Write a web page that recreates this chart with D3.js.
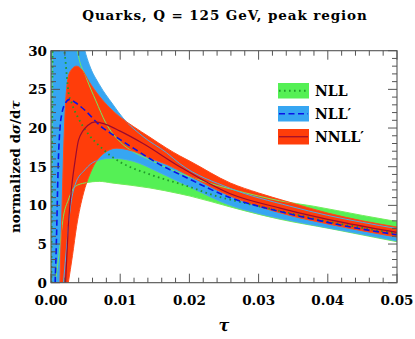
<!DOCTYPE html>
<html lang="en">
<head>
<meta charset="UTF-8">
<title>Quarks, Q = 125 GeV, peak region</title>
<script src="https://cdn.jsdelivr.net/npm/d3@7"></script>
<style>
  body { margin: 0; background: #fff; }
  svg { display: block; }
  text { font-family: 'DejaVu Serif', serif; font-weight: bold; fill: #000; }
</style>
</head>
<body>
<svg width="415" height="339"></svg>
<script>
// ---- data (tau, value) ----
const xTicks = [0, 0.01, 0.02, 0.03, 0.04, 0.05];
const yTicks = [0, 5, 10, 15, 20, 25, 30];

// NLL (green band, dotted central)
const nllMid = [[0.00005,0],[0.00015,15],[0.0003,36],[0.001,42],[0.0017,32],[0.0021,28.6],[0.0025,24.8],[0.003,23.2],[0.004,21.2],[0.0055,19.1],[0.0071,17.6],[0.0085,16.5],[0.01,15.6],[0.0143,14.0],[0.02,12.4],[0.0235,11.3],[0.028,10.3],[0.033,9.3],[0.04,7.9],[0.045,7.1],[0.05,6.4]];
const nllHi = [[0.00005,0],[0.0002,32],[0.001,45],[0.003,36],[0.00385,29.9],[0.0051,26.5],[0.0065,23.5],[0.0079,20.7],[0.01,18.2],[0.0114,17.2],[0.014,16.0],[0.018,14.4],[0.022,13.1],[0.026,12.1],[0.03,11.2],[0.033,10.6],[0.0379,9.9],[0.045,8.7],[0.05,7.9]];
const nllLo = [[0.0006,0],[0.00107,3.0],[0.0018,8.6],[0.0025,10.7],[0.0035,12.45],[0.0049,12.9],[0.007,13.1],[0.0088,12.9],[0.0143,12.25],[0.0186,11.5],[0.0201,11.2],[0.0259,9.8],[0.0302,8.8],[0.0331,8.2],[0.0403,7.0],[0.05,5.3]];

// NLL' (blue band, dashed central)
const nlpMid = [[0.0006,0],[0.0008,6],[0.00095,12],[0.00106,15.7],[0.0013,20],[0.0016,22],[0.002,23.1],[0.0027,23.7],[0.0035,23.3],[0.0049,22.3],[0.0071,20.3],[0.009,19.1],[0.0119,17.4],[0.0153,15.5],[0.0191,13.8],[0.0259,11.0],[0.0331,9.2],[0.0379,8.2],[0.0427,7.3],[0.05,6.2]];
const nlpHi = [[0.00001,0],[0.00008,35],[0.003,40],[0.0049,30],[0.00553,28.2],[0.007,25.6],[0.0089,23.1],[0.0104,21.3],[0.0133,18.9],[0.0167,16.8],[0.0186,15.4],[0.0259,12.2],[0.0345,9.9],[0.04,8.7],[0.045,7.8],[0.05,7.0]];
const nlpLo = [[0.0018,0],[0.0023,5.1],[0.00275,9.4],[0.0035,12.7],[0.0049,14.6],[0.0064,15.7],[0.0088,16.1],[0.0119,15.7],[0.0158,14.2],[0.02,12.4],[0.0259,10.0],[0.0302,8.9],[0.0331,8.3],[0.04,7.1],[0.05,5.4]];

// NNLL' (red band, solid central)
const nnlpMid = [[0.0021,0],[0.0025,7.3],[0.003,12.5],[0.0035,15.9],[0.004,18.5],[0.0054,20.4],[0.0064,20.8],[0.0078,20.5],[0.01,19.6],[0.0133,18.0],[0.0186,15.0],[0.0259,11.5],[0.0331,9.65],[0.0379,8.6],[0.0427,7.7],[0.05,6.5]];
const nnlpHi = [[0.0013,0],[0.0016,10],[0.0019,19],[0.0022,24.5],[0.0027,27.2],[0.0037,28.0],[0.0045,27.5],[0.0055,26.0],[0.007,24.1],[0.0085,22.6],[0.01,21.4],[0.0119,20.2],[0.0143,18.8],[0.0167,17.4],[0.0186,16.4],[0.0201,15.7],[0.0259,12.9],[0.03,11.6],[0.0341,10.5],[0.04,9.0],[0.045,8.0],[0.05,7.2]];
const nnlpLo = [[0.0025,0],[0.0031,3.5],[0.0037,7.3],[0.0047,11.6],[0.0056,14.0],[0.0068,16.0],[0.0095,17.4],[0.0119,17.0],[0.0143,16.1],[0.0167,15.3],[0.0196,14.0],[0.0259,11.2],[0.0341,8.8],[0.04,7.6],[0.05,5.9]];

const legendNames = ["NLL", "NLL\u2032", "NNLL\u2032"];

// ---- setup ----
const svg = d3.select("svg");
const W = 415, H = 339;
const pL = 51, pR = 397, pT = 50.7, pB = 282.7;

const x = d3.scaleLinear().domain([0, 0.05]).range([pL, pR]);
const y = d3.scaleLinear().domain([0, 30]).range([pB, pT]);

const line = d3.line().x(d => x(d[0])).y(d => y(d[1])).curve(d3.curveMonotoneX);
const under = d3.area().x(d => x(d[0])).y0(y(0)).y1(d => y(d[1])).curve(d3.curveMonotoneX);

const bands = [
  { id: "nll",  hi: nllHi,  lo: nllLo,  mid: nllMid,  fill: "#55f055", edge: "#72ec5c", stroke: "#1f9a2a", dash: "1.6,3.4", sw: 1.8 },
  { id: "nlp",  hi: nlpHi,  lo: nlpLo,  mid: nlpMid,  fill: "#36a6f2", edge: "#4aaaea", stroke: "#0a14e6", dash: "6,3.5",   sw: 1.6 },
  { id: "nnlp", hi: nnlpHi, lo: nnlpLo, mid: nnlpMid, fill: "#ff3d0a", edge: "#ff4a1a", stroke: "#9a0a30", dash: null,      sw: 1.2 }
];

const defs = svg.append("defs");
defs.append("clipPath").attr("id", "plotclip")
  .append("rect").attr("x", pL).attr("y", pT).attr("width", pR - pL).attr("height", pB - pT);

bands.forEach(b => {
  const m = defs.append("mask").attr("id", "m-" + b.id)
    .attr("maskUnits", "userSpaceOnUse").attr("x", 0).attr("y", 0).attr("width", W).attr("height", H);
  m.append("rect").attr("width", W).attr("height", H).attr("fill", "#fff");
  m.append("path").attr("d", under(b.lo)).attr("fill", "#000");
});

const plot = svg.append("g").attr("clip-path", "url(#plotclip)");

// band fills
bands.forEach(b => {
  plot.append("path").attr("d", under(b.hi)).attr("fill", b.fill).attr("mask", "url(#m-" + b.id + ")");
});
// band edges
bands.forEach(b => {
  [b.hi, b.lo].forEach(e => {
    plot.append("path").attr("d", line(e)).attr("fill", "none").attr("stroke", b.edge).attr("stroke-width", 1);
  });
});
// central lines
bands.forEach(b => {
  plot.append("path").attr("d", line(b.mid)).attr("fill", "none")
    .attr("stroke", b.stroke).attr("stroke-width", b.sw)
    .attr("stroke-dasharray", b.dash);
});

// ---- frame & ticks ----
const axisCol = "#555";
const frame = svg.append("g");
frame.append("rect").attr("x", pL).attr("y", pT).attr("width", pR - pL).attr("height", pB - pT)
  .attr("fill", "none").attr("stroke", axisCol).attr("stroke-width", 1.1);

const xMinor = d3.range(0, 0.0501, 0.002);
const yMinor = d3.range(0, 30.01, 1);
xMinor.forEach((t, i) => {
  const len = i % 5 === 0 ? 9 : 5;
  frame.append("line").attr("x1", x(t)).attr("x2", x(t)).attr("y1", pB).attr("y2", pB - len).attr("stroke", axisCol);
  frame.append("line").attr("x1", x(t)).attr("x2", x(t)).attr("y1", pT).attr("y2", pT + len).attr("stroke", axisCol);
});
yMinor.forEach((v, i) => {
  const len = i % 5 === 0 ? 9 : 5;
  frame.append("line").attr("y1", y(v)).attr("y2", y(v)).attr("x1", pL).attr("x2", pL + len).attr("stroke", axisCol);
  frame.append("line").attr("y1", y(v)).attr("y2", y(v)).attr("x1", pR).attr("x2", pR - len).attr("stroke", axisCol);
});

svg.append("g").selectAll("text").data(xTicks).join("text")
  .attr("x", d => x(d)).attr("y", 305).attr("text-anchor", "middle").attr("font-size", 13.5)
  .text(d => d.toFixed(2));
svg.append("g").selectAll("text").data(yTicks).join("text")
  .attr("x", 47).attr("y", d => y(d)).attr("dy", "0.36em").attr("text-anchor", "end").attr("font-size", 13.5)
  .text(d => d);

// ---- titles ----
svg.append("text").attr("x", 225).attr("y", 20).attr("text-anchor", "middle").attr("font-size", 13.5)
  .attr("letter-spacing", 0.9)
  .text("Quarks, Q = 125 GeV, peak region");

svg.append("text").attr("x", 224).attr("y", 331).attr("text-anchor", "middle").attr("font-size", 16)
  .attr("font-style", "italic").text("\u03c4");

const yl = svg.append("text").attr("transform", "translate(20," + (pT + pB) / 2 + ") rotate(-90)")
  .attr("text-anchor", "middle").attr("font-size", 13.5);
yl.append("tspan").text("normalized d");
yl.append("tspan").attr("font-style", "italic").text("\u03c3");
yl.append("tspan").text("/d");
yl.append("tspan").attr("font-style", "italic").text("\u03c4");

// ---- legend ----
const lg = svg.append("g").attr("transform", "translate(278,83)");
bands.forEach((b, i) => {
  const g = lg.append("g").attr("transform", "translate(0," + i * 23 + ")");
  g.append("rect").attr("width", 31).attr("height", 15.5).attr("fill", b.fill);
  g.append("line").attr("x1", 1).attr("x2", 30).attr("y1", 7.75).attr("y2", 7.75)
    .attr("stroke", b.stroke).attr("stroke-width", b.sw).attr("stroke-dasharray", b.dash);
  g.append("text").attr("x", 37).attr("y", 13).attr("font-size", 14).text(legendNames[i]);
});
</script>
</body>
</html>
